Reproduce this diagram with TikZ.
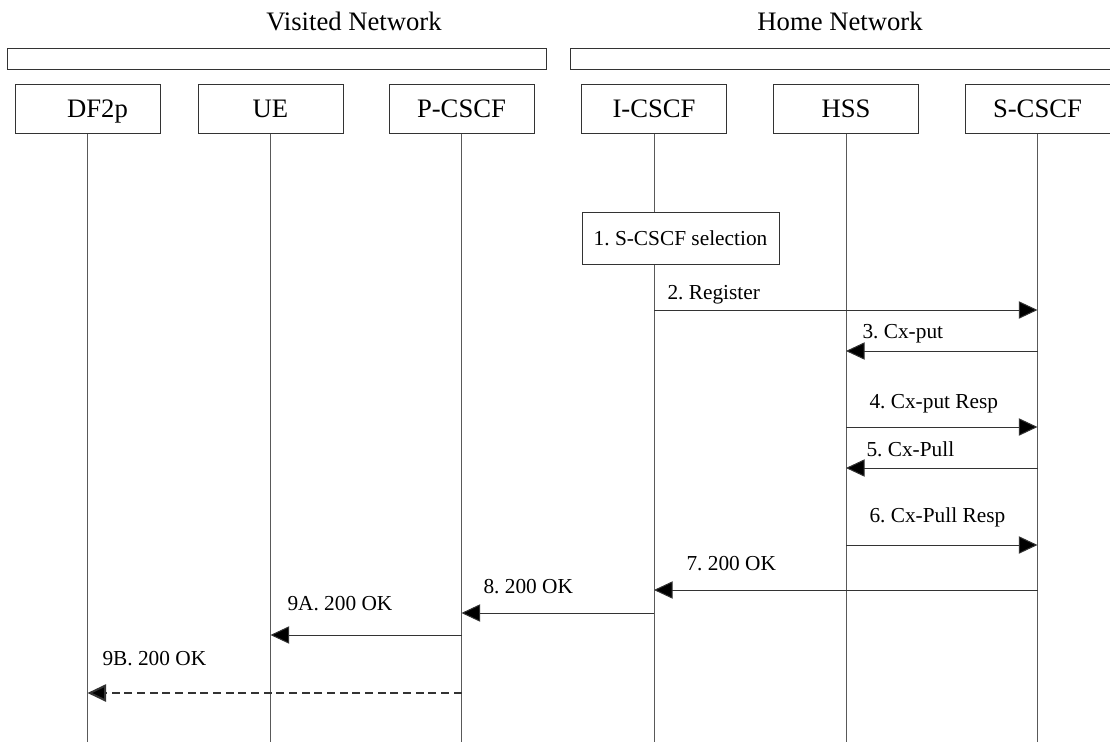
\documentclass[tikz,border=0pt]{standalone}
\usepackage{fontspec}
\setmainfont{Liberation Serif}
\usetikzlibrary{arrows.meta}
\frenchspacing
\begin{document}
\begin{tikzpicture}[x=0.75pt,y=-0.75pt,line width=0.75pt,
	entity/.style={draw=black!80,minimum width=108.75pt,minimum height=36pt,inner sep=0pt,
		text height=13.2pt,text depth=0pt,font=\fontsize{20}{22}\selectfont},
	netbar/.style={draw=black!80,minimum height=15.75pt,inner sep=0pt},
	heading/.style={anchor=base,inner sep=0pt,font=\fontsize{20}{22}\selectfont},
	lifeline/.style={draw=black!65},
	msg/.style={draw=black!80,-{Triangle[length=14pt,width=13pt,fill=black]}},
	msglabel/.style={anchor=base west,inner sep=0pt,font=\fontsize{16}{18}\selectfont}]
	\useasboundingbox (0,0) rectangle (1110,742);
	% network headings and bars
	\node[heading] (visited) at (354,31) {Visited Network};
	\node[heading] (home) at (840,31) {Home Network};
	\node[netbar,minimum width=404.25pt] (vbar) at (276.5,59.5) {};
	\node[netbar,minimum width=405pt] (hbar) at (840,59.5) {};
	% entities
	\node[entity] (df) at (87.5,109) {\hspace*{15pt}DF2p};
	\node[entity] (ue) at (270.5,109) {UE};
	\node[entity] (pcscf) at (461.5,109) {P-CSCF};
	\node[entity] (icscf) at (654,109) {I-CSCF};
	\node[entity] (hss) at (846,109) {HSS};
	\node[entity] (scscf) at (1037.5,109) {S-CSCF};
	% lifelines
	\foreach \e in {df,ue,pcscf,icscf,hss,scscf}
		\draw[lifeline] (\e.south) -- (\e.south |- 0,742);
	% step 1
	\node[draw=black!80,fill=white,minimum width=147.75pt,minimum height=39pt,inner sep=0pt,
		font=\fontsize{16}{18}\selectfont] (sel) at (680.5,238.5) {1. S-CSCF selection};
	% messages
	\draw[msg] (icscf |- 0,310) -- (scscf |- 0,310);
	\node[msglabel] (m2) at (667,299) {2. Register};
	\draw[msg] (scscf |- 0,351) -- (hss |- 0,351);
	\node[msglabel] (m3) at (862,338) {3. Cx-put};
	\draw[msg] (hss |- 0,427) -- (scscf |- 0,427);
	\node[msglabel] (m4) at (869,408) {4. Cx-put Resp};
	\draw[msg] (scscf |- 0,468) -- (hss |- 0,468);
	\node[msglabel] (m5) at (866,456) {5. Cx-Pull};
	\draw[msg] (hss |- 0,545) -- (scscf |- 0,545);
	\node[msglabel] (m6) at (869,522) {6. Cx-Pull Resp};
	\draw[msg] (scscf |- 0,590) -- (icscf |- 0,590);
	\node[msglabel] (m7) at (686,570) {7. 200 OK};
	\draw[msg] (icscf |- 0,613) -- (pcscf |- 0,613);
	\node[msglabel] (m8) at (483,593) {8. 200 OK};
	\draw[msg] (pcscf |- 0,635) -- (ue |- 0,635);
	\node[msglabel] (m9a) at (287,610) {9A. 200 OK};
	\draw[msg,line width=1.5pt,dash pattern=on 6pt off 3.5pt] (pcscf |- 0,693) -- (df |- 0,693);
	\node[msglabel] (m9b) at (102,665) {9B. 200 OK};
\end{tikzpicture}
\end{document}
